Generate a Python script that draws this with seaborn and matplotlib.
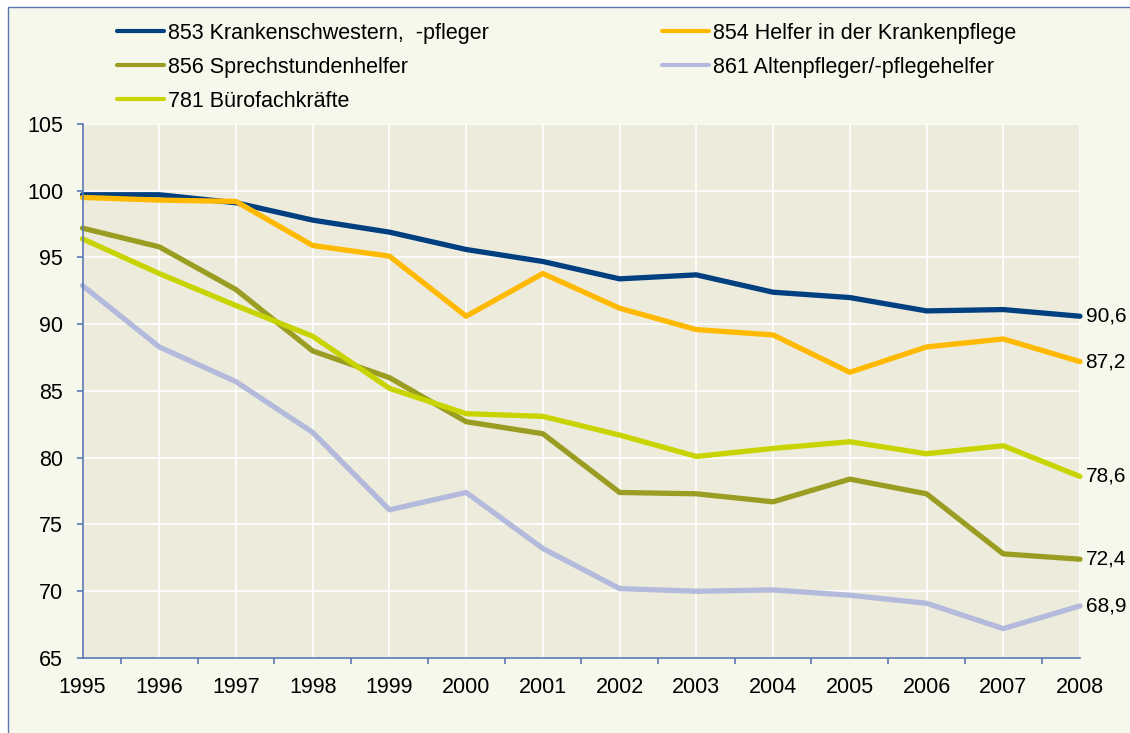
import matplotlib
matplotlib.use("Agg")
import matplotlib.pyplot as plt
from matplotlib.lines import Line2D
from matplotlib.patches import Rectangle
import seaborn as sns
import pandas as pd

# Daten (Index)
jahre = [1995, 1996, 1997, 1998, 1999, 2000, 2001, 2002, 2003, 2004, 2005, 2006, 2007, 2008]
krankenschwestern = [99.7, 99.7, 99.1, 97.8, 96.9, 95.6, 94.7, 93.4, 93.7, 92.4, 92.0, 91.0, 91.1, 90.6]
helfer_krankenpflege = [99.5, 99.3, 99.2, 95.9, 95.1, 90.6, 93.8, 91.2, 89.6, 89.2, 86.4, 88.3, 88.9, 87.2]
sprechstundenhelfer = [97.2, 95.8, 92.6, 88.0, 86.0, 82.7, 81.8, 77.4, 77.3, 76.7, 78.4, 77.3, 72.8, 72.4]
altenpfleger = [92.9, 88.3, 85.7, 81.9, 76.1, 77.4, 73.2, 70.2, 70.0, 70.1, 69.7, 69.1, 67.2, 68.9]
buerofachkraefte = [96.4, 93.8, 91.4, 89.1, 85.2, 83.3, 83.1, 81.7, 80.1, 80.7, 81.2, 80.3, 80.9, 78.6]

berufe = ["853 Krankenschwestern,  -pfleger", "854 Helfer in der Krankenpflege",
          "856 Sprechstundenhelfer", "861 Altenpfleger/-pflegehelfer", "781 Bürofachkräfte"]
werte = [krankenschwestern, helfer_krankenpflege, sprechstundenhelfer, altenpfleger, buerofachkraefte]
farben = ["#003F80", "#FFB900", "#9A9D22", "#B3BADB", "#C8D400"]

zeilen = []
for beruf, reihe in zip(berufe, werte):
    for jahr, wert in zip(jahre, reihe):
        zeilen.append({"Jahr": jahr, "Wert": wert, "Beruf": beruf})
df = pd.DataFrame(zeilen)

sns.set_style("white")
plt.rcParams["font.family"] = ["Liberation Sans", "DejaVu Sans"]
plt.rcParams["text.color"] = "black"
plt.rcParams["xtick.color"] = "black"
plt.rcParams["ytick.color"] = "black"

fig = plt.figure(figsize=(11.3, 7.33), dpi=100, facecolor="white")
# Rahmen / Hintergrund wie im Original
fig.patches.append(Rectangle((8 / 1130, -0.05), 1.1, 1 - 7 / 733 + 0.05, transform=fig.transFigure,
                             facecolor="#F7F8EC", edgecolor="#5A78B0", linewidth=1.0, zorder=-10))

ax = fig.add_axes([82.5 / 1130, 1 - 658 / 733, (1080 - 82.5) / 1130, (658 - 124) / 733])
ax.set_facecolor("#EDEBDC")

sns.lineplot(data=df, x="Jahr", y="Wert", hue="Beruf", hue_order=berufe,
             palette=dict(zip(berufe, farben)), linewidth=3.8, legend=False, ax=ax, sort=False)
for linie in ax.get_lines():
    linie.set_solid_capstyle("round")
    linie.set_solid_joinstyle("round")
    linie.set_clip_on(False)

ax.set_xlim(jahre[0], jahre[-1])
ax.set_ylim(65, 105)
ax.set_yticks(range(65, 106, 5))
ax.set_xticks(jahre)
ax.set_xticks([j + 0.5 for j in jahre[:-1]] + [jahre[-1]], minor=True)
ax.set_xlabel("")
ax.set_ylabel("")

ax.grid(True, color="white", linewidth=1.2)
ax.set_axisbelow(True)
for seite in ["top", "right"]:
    ax.spines[seite].set_visible(False)
for seite in ["left", "bottom"]:
    ax.spines[seite].set_color("#5A78B0")
    ax.spines[seite].set_linewidth(1.2)

ax.tick_params(axis="y", which="major", left=True, length=4, width=1.2, color="#5A78B0",
               labelsize=15.5, labelcolor="black", pad=10)
ax.tick_params(axis="x", which="major", bottom=True, length=0, labelsize=15.5, labelcolor="black", pad=14)
ax.tick_params(axis="x", which="minor", bottom=True, length=4, width=1.2, color="#5A78B0")

# Endwerte
for reihe in werte:
    ax.annotate(f"{reihe[-1]:.1f}".replace(".", ","), xy=(jahre[-1], reihe[-1]),
                xytext=(4, 0), textcoords="offset points", va="center", ha="left",
                fontsize=15, color="black", annotation_clip=False)

# Legende in zwei Spalten
def griff(c):
    return Line2D([], [], color=c, linewidth=3.0, solid_capstyle="round")

links = [0, 2, 4]
rechts = [1, 3]
for idx, x0 in [(links, 117 / 1130), (rechts, 662 / 1130)]:
    fig.legend([griff(farben[i]) for i in idx], [berufe[i] for i in idx],
               loc="upper left", bbox_to_anchor=(x0, 1 - 23 / 733), bbox_transform=fig.transFigure,
               frameon=False, fontsize=15.5, handlelength=2.2, handletextpad=0.15,
               borderpad=0, borderaxespad=0, labelspacing=0.6, labelcolor="black")

fig.savefig("out.png", dpi=100, facecolor=fig.get_facecolor())
